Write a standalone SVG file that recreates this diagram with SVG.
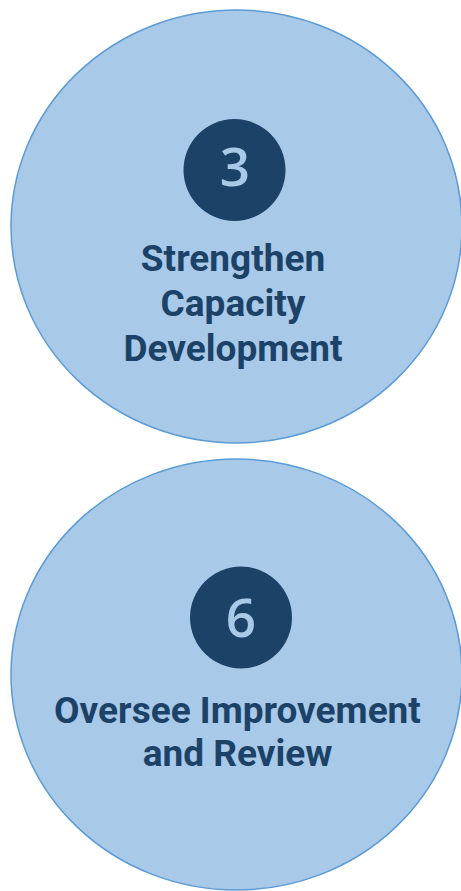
<svg xmlns="http://www.w3.org/2000/svg" width="461" height="891" viewBox="0 0 461 891">
<style>
.big{fill:#a9c9e8;stroke:#5b9bd5;stroke-width:1.5}
.badge{fill:#1c4268}
.num{font-family:"Open Sans","DejaVu Sans",sans-serif;font-size:53px;font-weight:600;fill:#a9c9e8;text-anchor:middle}
.lbl{font-family:Roboto,"Liberation Sans",sans-serif;font-weight:bold;font-size:37px;fill:#1c4268;text-anchor:middle}
</style>
<rect width="461" height="891" fill="#ffffff"/>
<g id="node3">
<ellipse class="big" cx="236.5" cy="226.5" rx="225.5" ry="216.5"/>
<circle class="badge" cx="234.5" cy="170" r="51"/>
<text class="num" x="235" y="186">3</text>
<text class="lbl" x="233" y="271">Strengthen</text>
<text class="lbl" x="233" y="316">Capacity</text>
<text class="lbl" x="233" y="361">Development</text>
</g>
<g id="node6">
<ellipse class="big" cx="236.5" cy="674.5" rx="225.5" ry="215.5"/>
<circle class="badge" cx="241" cy="617.5" r="51"/>
<text class="num" x="241" y="637">6</text>
<text class="lbl" x="237.5" y="723">Oversee Improvement</text>
<text class="lbl" x="237.5" y="766">and Review</text>
</g>
<g id="connectors"/>
</svg>
